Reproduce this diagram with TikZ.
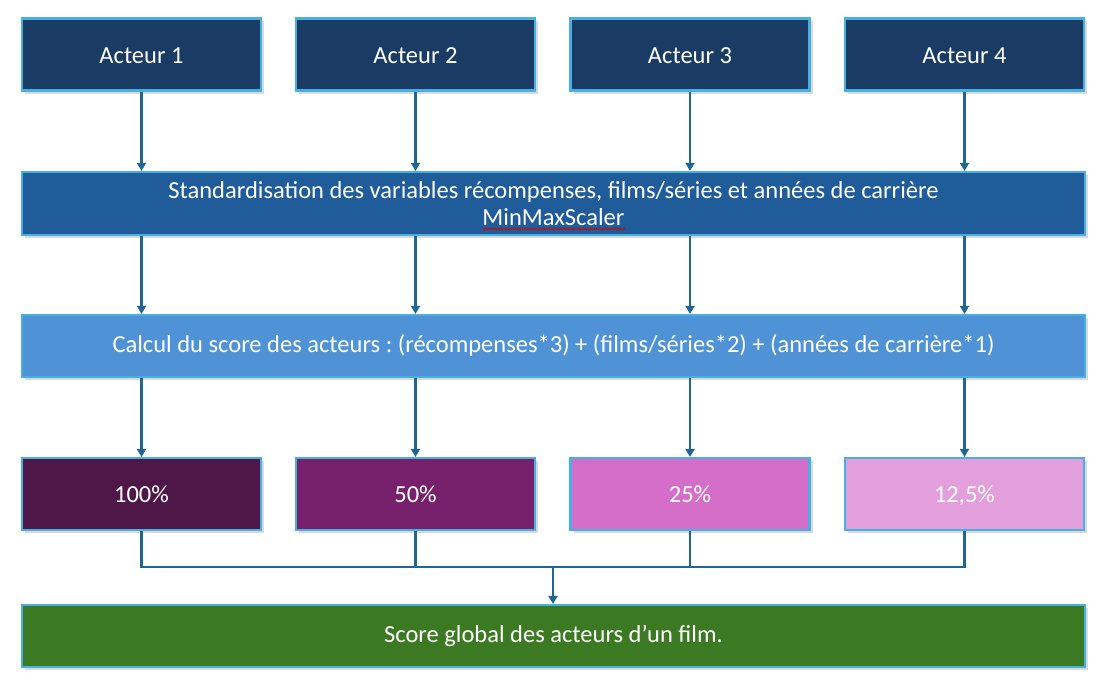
\documentclass[tikz,border=0pt]{standalone}
\usepackage{fontspec}
\setmainfont{Carlito}
\usetikzlibrary{shadows,decorations.pathmorphing,arrows.meta}
\definecolor{navy}{HTML}{1A3C64}
\definecolor{stdblue}{HTML}{1F5C99}
\definecolor{calcblue}{HTML}{4F93D6}
\definecolor{pA}{HTML}{4F1747}
\definecolor{pB}{HTML}{77206B}
\definecolor{pC}{HTML}{D56EC8}
\definecolor{pD}{HTML}{E39EDC}
\definecolor{gscore}{HTML}{3B7A23}
\definecolor{edge}{HTML}{45B0E1}
\definecolor{conn}{HTML}{1F6690}
\frenchspacing
\begin{document}
\begin{tikzpicture}[x=1pt,y=-1pt,
  box/.style={draw=edge, line width=2.2pt, text=white, align=center,
    font=\fontsize{24.5}{27}\selectfont\frenchspacing, inner sep=0pt,
    drop shadow={shadow xshift=3pt, shadow yshift=-3pt, opacity=0.25, fill=black!60}},
  small/.style={box, minimum width=239pt, minimum height=72pt, text height=22pt, text depth=4.5pt},
  wide/.style={box, minimum width=1063pt, minimum height=62pt},
  arr/.style={draw=conn, line width=2.2pt, -{Triangle[length=8pt,width=9pt]}},
  ln/.style={draw=conn, line width=2.2pt}]
\useasboundingbox (0,0) rectangle (1116,685);

\node[small, fill=navy] (a1) at (141.5,54.5) {Acteur 1};
\node[small, fill=navy] (a2) at (415.5,54.5) {Acteur 2};
\node[small, fill=navy] (a3) at (690,54.5) {Acteur 3};
\node[small, fill=navy] (a4) at (964.5,54.5) {Acteur 4};

\node[wide, fill=stdblue, minimum height=63pt] (s) at (553.5,203.5)
  {Standardisation des variables récompenses, films/séries et années de carrière\\MinMaxScaler};

\node[wide, fill=calcblue] (c) at (553.5,346)
  {Calcul du score des acteurs : (récompenses*3) + (films/séries*2) + (années de carrière*1)};

\node[small, fill=pA] (p1) at (141.5,494) {100\%};
\node[small, fill=pB] (p2) at (415.5,494) {50\%};
\node[small, fill=pC] (p3) at (690,494) {25\%};
\node[small, fill=pD] (p4) at (964.5,494) {12,5\%};

\node[wide, fill=gscore] (g) at (553.5,636) {Score global des acteurs d’un film.};

\coordinate (m) at (553,567);
\coordinate (w1) at (482,229);
\coordinate (w2) at (625,229);
\draw[red!85!black, line width=0.7pt, decorate,
  decoration={snake, amplitude=0.9pt, segment length=3pt}] (w1) -- (w2);

\foreach \i in {1,2,3,4}{
  \draw[arr] (a\i.south) -- (a\i.south |- s.north);
  \draw[arr] (a\i.south |- s.south) -- (a\i.south |- c.north);
  \draw[arr] (a\i.south |- c.south) -- (p\i.north);
}
\draw[ln] (p1.south) -- (p1.south |- m) -- (p4.south |- m) -- (p4.south);
\draw[ln] (p2.south) -- (p2.south |- m);
\draw[ln] (p3.south) -- (p3.south |- m);
\draw[arr] (m) -- (m |- g.north);
\end{tikzpicture}
\end{document}
